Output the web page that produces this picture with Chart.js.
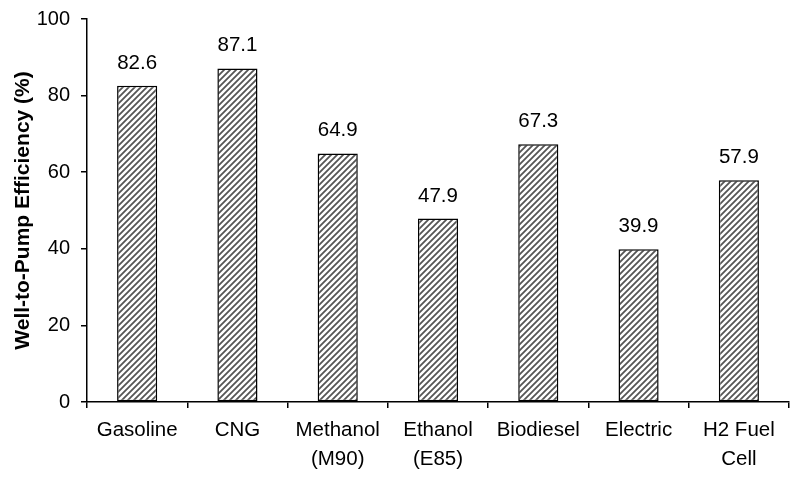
<!DOCTYPE html>
<html>
<head>
<meta charset="utf-8">
<script src="https://cdn.jsdelivr.net/npm/chart.js@4.4.0/dist/chart.umd.min.js"></script>
<style>
  html, body { margin: 0; padding: 0; background: #fff; }
  .chartDiv { width: 795px; height: 477px; }
</style>
</head>
<body>
<div class="chartDiv"><canvas id="chart"></canvas></div>
<script>
const categories = [['Gasoline'], ['CNG'], ['Methanol', '(M90)'], ['Ethanol', '(E85)'], ['Biodiesel'], ['Electric'], ['H2 Fuel', 'Cell']];
const efficiency = [82.6, 87.1, 64.9, 47.9, 67.3, 39.9, 57.9];
const yTicks = [0, 20, 40, 60, 80, 100];

const FONT = '"Liberation Sans", Arial, sans-serif';

function hatch() {
  const c = document.createElement('canvas');
  c.width = 6; c.height = 6;
  const g = c.getContext('2d');
  g.fillStyle = '#fff';
  g.fillRect(0, 0, 6, 6);
  g.strokeStyle = '#555';
  g.lineWidth = 1.8;
  g.beginPath();
  g.moveTo(-1, 7); g.lineTo(7, -1);
  g.moveTo(-4, 4); g.lineTo(4, -4);
  g.moveTo(2, 10); g.lineTo(10, 2);
  g.stroke();
  return g.createPattern(c, 'repeat');
}

const valueLabels = {
  id: 'valueLabels',
  afterDatasetsDraw(chart) {
    const ctx = chart.ctx;
    ctx.save();
    ctx.font = '20.5px ' + FONT;
    ctx.fillStyle = '#000';
    ctx.textAlign = 'center';
    ctx.textBaseline = 'alphabetic';
    chart.getDatasetMeta(0).data.forEach((bar, i) => {
      ctx.fillText(efficiency[i].toFixed(1), bar.x, bar.y - 17);
    });
    ctx.restore();
  }
};

const ctx = document.getElementById('chart').getContext('2d');
new Chart(ctx, {
  type: 'bar',
  data: {
    labels: categories,
    datasets: [{
      data: efficiency,
      backgroundColor: hatch(),
      borderColor: '#000',
      borderWidth: 1.5,
      borderSkipped: false,
      barPercentage: 0.40,
      categoryPercentage: 1
    }]
  },
  options: {
    responsive: true,
    maintainAspectRatio: false,
    animation: false,
    layout: { padding: { top: 2, right: 6, left: 11, bottom: 0 } },
    plugins: { legend: { display: false }, tooltip: { enabled: false } },
    scales: {
      x: {
        afterFit(axis) { axis.height = 75; },
        grid: { display: true, drawOnChartArea: false, drawTicks: true, tickLength: 6, color: '#000', lineWidth: 1.5, offset: true },
        border: { display: true, color: '#000', width: 1.5 },
        ticks: {
          color: '#000',
          font: { family: FONT, size: 20.5, lineHeight: 1.4 },
          padding: 8,
          maxRotation: 0,
          autoSkip: false
        }
      },
      y: {
        min: 0,
        max: 100,
        afterBuildTicks(axis) { axis.ticks = yTicks.map(v => ({ value: v })); },
        afterFit(axis) { axis.width = 76; },
        grid: { display: true, drawOnChartArea: false, drawTicks: true, tickLength: 6, color: '#000', lineWidth: 1.5 },
        border: { display: true, color: '#000', width: 1.5 },
        ticks: {
          color: '#000',
          font: { family: FONT, size: 20, lineHeight: 0.8 },
          padding: 11
        },
        title: {
          display: true,
          text: 'Well-to-Pump Efficiency (%)',
          color: '#000',
          font: { family: FONT, size: 21, weight: 'bold' },
          padding: { top: 0, bottom: 0 }
        }
      }
    }
  },
  plugins: [valueLabels]
});
</script>
</body>
</html>
